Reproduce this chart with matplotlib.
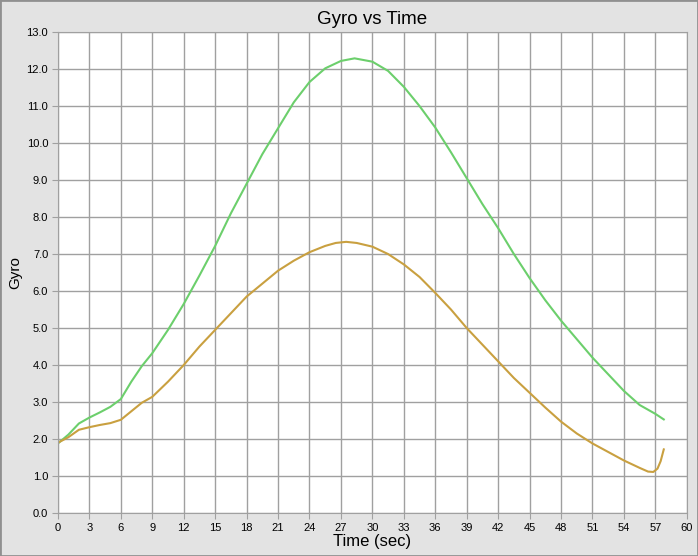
import matplotlib
matplotlib.use('Agg')
import matplotlib.pyplot as plt
import numpy as np

# time axis (sec) and gyro readings
green_t = [0, 1, 2, 3, 4, 5, 6, 7, 8, 9, 10.5, 12, 13.5, 15, 16.5, 18, 19.5, 21,
           22.5, 24, 25.5, 27, 28.3, 30, 31.5, 33, 34.5, 36, 37.5, 39, 40.5, 42,
           43.5, 45, 46.5, 48, 49.5, 51, 52.5, 54, 55.5, 57, 57.8]
green_v = [1.88, 2.12, 2.42, 2.58, 2.72, 2.87, 3.08, 3.55, 3.97, 4.32, 4.95, 5.65,
           6.42, 7.22, 8.1, 8.9, 9.7, 10.4, 11.1, 11.65, 12.02, 12.22, 12.29, 12.2,
           11.95, 11.52, 11.0, 10.42, 9.75, 9.05, 8.35, 7.7, 7.0, 6.35, 5.75, 5.2,
           4.7, 4.2, 3.75, 3.3, 2.92, 2.68, 2.53]

orange_t = [0, 1, 2, 3, 4, 5, 6, 7, 8, 9, 10.5, 12, 13.5, 15, 16.5, 18, 19.5, 21,
            22.5, 24, 25.5, 26.5, 27.5, 28.5, 30, 31.5, 33, 34.5, 36, 37.5, 39, 40.5,
            42, 43.5, 45, 46.5, 48, 49.5, 51, 52.5, 54, 55.5, 56.3, 56.8, 57.2,
            57.5, 57.8]
orange_v = [1.9, 2.05, 2.25, 2.32, 2.38, 2.43, 2.52, 2.75, 2.98, 3.14, 3.55, 4.0,
            4.5, 4.95, 5.4, 5.85, 6.2, 6.55, 6.82, 7.05, 7.22, 7.3, 7.33, 7.3, 7.2,
            7.0, 6.72, 6.38, 5.95, 5.5, 5.0, 4.55, 4.1, 3.65, 3.25, 2.85, 2.47,
            2.15, 1.88, 1.65, 1.42, 1.22, 1.12, 1.11, 1.2, 1.4, 1.72]

x_ticks = list(range(0, 61, 3))
y_ticks = list(range(0, 14))


def main():
    plt.rcParams['font.family'] = ['Liberation Sans', 'DejaVu Sans']
    fig = plt.figure(figsize=(6.98, 5.56), dpi=100, facecolor='#e3e3e3')
    ax = fig.add_axes([0.083, 0.0773, 0.901, 0.865])
    ax.set_facecolor('white')

    ax.plot(green_t, green_v, color='#6ccf6c', lw=1.5)
    ax.plot(orange_t, orange_v, color='#c9a040', lw=1.5)

    ax.set_xlim(0, 60)
    ax.set_ylim(0, 13)
    ax.set_xticks(x_ticks)
    ax.set_xticklabels([str(v) for v in x_ticks])
    ax.set_yticks(y_ticks)
    ax.set_yticklabels(['%.1f' % v for v in y_ticks])
    ax.tick_params(labelsize=8, length=4, color='#a0a0a0', pad=3)
    ax.grid(True, color='#a0a0a0', lw=1)
    for s in ax.spines.values():
        s.set_color('#a0a0a0')

    ax.set_title('Gyro vs Time', fontsize=13.5, pad=6)
    ax.set_xlabel('Time (sec)', fontsize=12, labelpad=1)
    ax.set_ylabel('Gyro', fontsize=11, labelpad=3)

    fig.patches.append(plt.Rectangle((0, 0), 1, 1, transform=fig.transFigure,
                                     fill=False, edgecolor='#909090', lw=2))
    fig.savefig('out.png', dpi=100, facecolor=fig.get_facecolor())


if __name__ == '__main__':
    main()
